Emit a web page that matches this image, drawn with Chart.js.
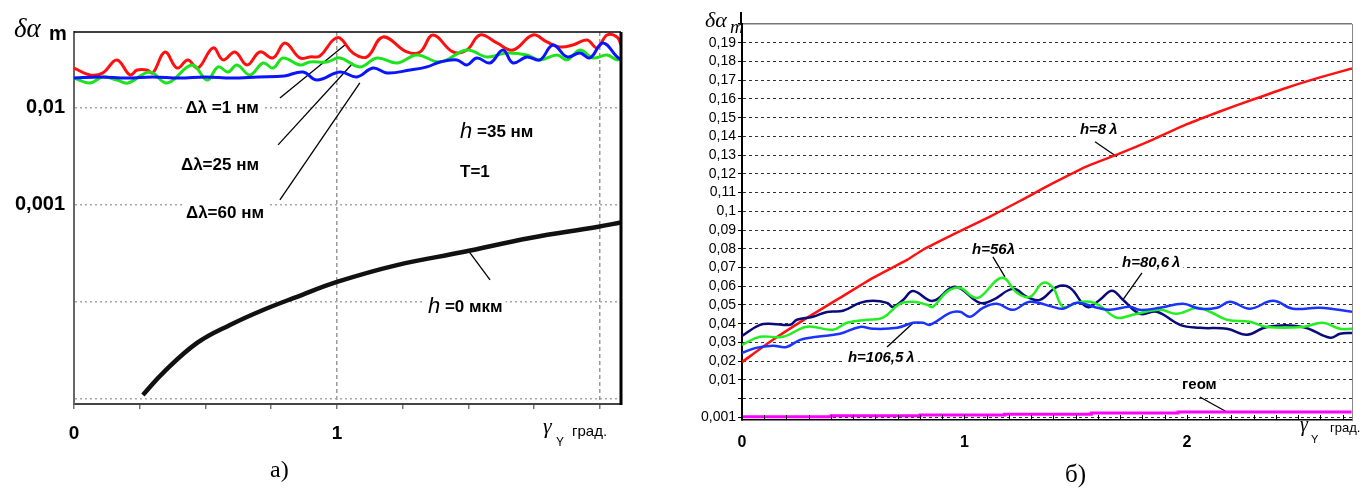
<!DOCTYPE html>
<html>
<head>
<meta charset="utf-8">
<script src="https://cdn.jsdelivr.net/npm/chart.js@4.4.0/dist/chart.umd.min.js"></script>
<style>
html, body { margin: 0; padding: 0; background: #fff; width: 1364px; height: 488px; overflow: hidden; }
canvas { position: absolute; top: 0; }
#chartA { left: 0; }
#chartB { left: 680px; }
</style>
</head>
<body>
<canvas id="chartA" width="650" height="488"></canvas>
<canvas id="chartB" width="684" height="488"></canvas>
<script>
// ---------- panel а) : log scale, h = 35 nm ----------
const aRedX = [0,0.061,0.110,0.163,0.213,0.240,0.278,0.300,0.346,0.392,0.433,0.471,0.529,0.567,0.612,0.658,0.707,0.757,0.802,0.859,0.897,0.935,0.985,1.011,1.061,1.114,1.175,1.266,1.316,1.365,1.441,1.494,1.544,1.608,1.669,1.745,1.798,1.848,1.897,1.951,1.989,2.027,2.065,2.080];
const aRedY = [0.0258,0.0219,0.0230,0.0313,0.0219,0.0246,0.0246,0.0230,0.0378,0.0258,0.0313,0.0258,0.0416,0.0313,0.0378,0.0278,0.0378,0.0328,0.0468,0.0328,0.0336,0.0344,0.0502,0.0527,0.0369,0.0336,0.0540,0.0378,0.0378,0.0566,0.0378,0.0396,0.0566,0.0468,0.0396,0.0566,0.0479,0.0425,0.0446,0.0502,0.0416,0.0566,0.0540,0.0446];
const aGreenX = [0,0.061,0.110,0.163,0.205,0.289,0.354,0.449,0.506,0.548,0.586,0.620,0.669,0.719,0.757,0.795,0.859,0.897,0.962,1.011,1.087,1.152,1.228,1.304,1.392,1.494,1.570,1.646,1.722,1.772,1.837,1.875,1.924,1.973,2.027,2.065,2.080];
const aGreenY = [0.0204,0.0181,0.0209,0.0194,0.0181,0.0235,0.0181,0.0278,0.0194,0.0265,0.0235,0.0278,0.0219,0.0291,0.0258,0.0328,0.0278,0.0298,0.0298,0.0328,0.0265,0.0328,0.0291,0.0352,0.0298,0.0396,0.0336,0.0369,0.0352,0.0313,0.0352,0.0313,0.0396,0.0328,0.0352,0.0313,0.0328];
const aBlueX = [0,0.1,0.2,0.3,0.4,0.5,0.6,0.7,0.8,0.871,0.924,1.011,1.076,1.137,1.190,1.278,1.342,1.392,1.456,1.494,1.532,1.582,1.631,1.669,1.722,1.772,1.821,1.875,1.924,1.962,2.011,2.065,2.080];
const aBlueY = [0.0204,0.0209,0.0204,0.0209,0.0204,0.0209,0.0204,0.0209,0.0214,0.0235,0.0194,0.0235,0.0209,0.0258,0.0230,0.0246,0.0265,0.0298,0.0313,0.0278,0.0328,0.0291,0.0396,0.0291,0.0336,0.0313,0.0446,0.0336,0.0369,0.0328,0.0468,0.0336,0.0313];
const aBlackX = [0.262,0.338,0.468,0.593,0.719,0.848,1.0,1.228,1.479,1.734,1.989,2.08];
const aBlackY = [1.10e-5,1.85e-5,3.78e-5,5.79e-5,8.27e-5,1.13e-4,1.61e-4,2.40e-4,3.27e-4,4.57e-4,5.93e-4,6.6e-4];

const aYTicks = [1e-5, 1e-4, 1e-3, 1e-2];
const aYTickLabels = ['', '', '0,001', '0,01'];
const aXTicks = [0, 0.25, 0.5, 0.75, 1, 1.25, 1.5, 1.75, 2];
const aXTickLabels = ['0', '', '', '', '1', '', '', '', ''];

// ---------- panel б) : linear scale with compressed bottom ----------
const bRedX = [0,0.139,0.292,0.44,0.589,0.742,0.814,0.966,1.115,1.249,1.398,1.55,1.699,1.847,2.0,2.148,2.297,2.449,2.598,2.742];
const bRedY = [0.0195,0.0314,0.0431,0.0538,0.0645,0.0741,0.0795,0.0886,0.0972,0.1055,0.1150,0.124,0.1309,0.1383,0.1465,0.1533,0.1597,0.1660,0.1715,0.1763];
const bNavyX = [0,0.081,0.139,0.216,0.247,0.319,0.382,0.454,0.530,0.589,0.652,0.679,0.724,0.769,0.858,0.957,1.07,1.128,1.218,1.281,1.339,1.416,1.474,1.55,1.609,1.663,1.712,1.789,1.865,1.969,2.058,2.18,2.27,2.36,2.52,2.643,2.688,2.742];
const bNavyY = [0.0335,0.0394,0.0399,0.0394,0.0421,0.0437,0.0463,0.0469,0.0511,0.0522,0.0511,0.049,0.0527,0.0575,0.0522,0.0597,0.0511,0.0527,0.0586,0.0543,0.0527,0.0597,0.0592,0.049,0.0528,0.0576,0.0528,0.0453,0.0464,0.0394,0.0378,0.0373,0.0341,0.0383,0.0383,0.0325,0.0346,0.0351];
const bGreenX = [0,0.081,0.184,0.292,0.409,0.472,0.562,0.634,0.71,0.769,0.832,0.858,0.921,0.979,1.038,1.07,1.169,1.236,1.294,1.353,1.398,1.443,1.506,1.564,1.609,1.685,1.757,1.879,1.955,2.045,2.103,2.18,2.283,2.36,2.52,2.611,2.688,2.742];
const bGreenY = [0.0287,0.033,0.033,0.0384,0.0368,0.0405,0.0421,0.0432,0.0506,0.0517,0.0501,0.049,0.057,0.0592,0.0543,0.0543,0.0645,0.0565,0.0543,0.0618,0.0592,0.049,0.0512,0.0517,0.0496,0.0432,0.0448,0.0474,0.0453,0.0485,0.0464,0.0421,0.041,0.0383,0.0383,0.0405,0.0373,0.0373];
const bBlueX = [0,0.063,0.139,0.2,0.261,0.337,0.44,0.53,0.589,0.697,0.769,0.814,0.845,0.935,0.98,1.025,1.083,1.146,1.218,1.294,1.398,1.443,1.506,1.596,1.654,1.744,1.789,1.879,1.982,2.058,2.135,2.193,2.283,2.387,2.476,2.598,2.742];
const bBlueY = [0.0244,0.0271,0.0282,0.0276,0.0314,0.033,0.0346,0.0383,0.0373,0.0378,0.0405,0.0405,0.0394,0.0458,0.0464,0.0437,0.0485,0.0506,0.0474,0.0517,0.049,0.048,0.0512,0.0485,0.0474,0.049,0.0474,0.0485,0.0506,0.048,0.0485,0.0517,0.048,0.0522,0.048,0.0485,0.0464];
const bGeomX = [0,0.40,0.80,1.18,1.57,1.96,2.35,2.74];
const bGeomY = [0.001,0.00104,0.0011,0.00116,0.00122,0.0013,0.0014,0.0014];

const bYTicks = [0.2,0.19,0.18,0.17,0.16,0.15,0.14,0.13,0.12,0.11,0.1,0.09,0.08,0.07,0.06,0.05,0.04,0.03,0.02,0.01,0,-0.01];
const bYTickLabels = ['','0,19','0,18','0,17','0,16','0,15','0,14','0,13','0,12','0,11','0,1','0,09','0,08','0,07','0,06','0,05','0,04','0,03','0,02','0,01','','0,001'];
const bXLabelValues = [0, 1, 2];
const bXLabels = ['0', '1', '2'];

const SANS = "'Liberation Sans', Arial, sans-serif";
const SERIF = "'Liberation Serif', 'Times New Roman', serif";

function pts(xs, ys, f) {
    return xs.map((x, i) => ({ x: x, y: f ? f(ys[i]) : ys[i] }));
}
// below 0,01 the right axis is logarithmic: 0,01 -> 0,01 and 0,001 -> -0,01
function toAxisB(v) {
    return v >= 0.01 ? v : 0.01 + 0.02 * (Math.log10(v) + 2);
}
function line(data, color, width, extra) {
    return Object.assign({ data: data, borderColor: color, borderWidth: width, pointRadius: 0,
        tension: 0.4, fill: false }, extra || {});
}

function drawRuns(ctx, x, y, parts, align) {
    let w = 0;
    parts.forEach(p => { ctx.font = p[1]; w += ctx.measureText(p[0]).width; });
    let cx = align === 'center' ? x - w / 2 : x;
    ctx.fillStyle = '#fff';
    ctx.fillRect(cx - 3, y - 9, w + 6, 18);
    ctx.fillStyle = '#000';
    ctx.textBaseline = 'middle';
    parts.forEach(p => {
        ctx.font = p[1];
        ctx.fillText(p[0], cx, y);
        cx += ctx.measureText(p[0]).width;
    });
}

function decor(notes, leaders, extra) {
    return {
        id: 'decor',
        beforeDatasetsDraw(chart) {
            const ctx = chart.ctx, sx = chart.scales.x, sy = chart.scales.y;
            ctx.save();
            notes.forEach(n => drawRuns(ctx, sx.getPixelForValue(n.x), sy.getPixelForValue(n.y), n.parts, n.align));
            ctx.strokeStyle = '#000';
            ctx.lineWidth = 1.3;
            leaders.forEach(l => {
                ctx.beginPath();
                ctx.moveTo(sx.getPixelForValue(l[0]), sy.getPixelForValue(l[1]));
                ctx.lineTo(sx.getPixelForValue(l[2]), sy.getPixelForValue(l[3]));
                ctx.stroke();
            });
            ctx.restore();
        },
        afterDraw(chart) {
            chart.ctx.save();
            extra(chart);
            chart.ctx.restore();
        }
    };
}

// ---------- chart а) ----------
const aB = "bold 17px " + SANS;
const aH = "italic 22px " + SANS;
const aNotes = [
    { x: 0.563, y: 0.01, align: 'center', parts: [['\u0394\u03bb =1 нм', aB]] },
    { x: 0.555, y: 0.00258, align: 'center', parts: [['\u0394\u03bb=25 нм', aB]] },
    { x: 0.574, y: 0.000828, align: 'center', parts: [['\u0394\u03bb=60 нм', aB]] },
    { x: 1.468, y: 0.00566, align: 'left', parts: [['h', aH], [' =35 нм', aB]] },
    { x: 1.468, y: 0.00219, align: 'left', parts: [['T=1', aB]] },
    { x: 1.346, y: 8.87e-5, align: 'left', parts: [['h', aH], [' =0 мкм', aB]] }
];
const aLeaders = [
    [0.783, 0.01268, 1.030, 0.0446],
    [0.776, 0.00416, 1.061, 0.0291],
    [0.783, 0.001127, 1.087, 0.0181],
    [1.498, 3.43e-4, 1.582, 1.69e-4]
];

function extraA(chart) {
    const ctx = chart.ctx, a = chart.chartArea;
    ctx.strokeStyle = '#000';
    ctx.lineWidth = 1.5;
    ctx.beginPath(); ctx.moveTo(a.left, a.top); ctx.lineTo(a.right, a.top); ctx.stroke();
    ctx.lineWidth = 3;
    ctx.beginPath(); ctx.moveTo(a.right, a.top); ctx.lineTo(a.right, a.bottom + 1); ctx.stroke();

    ctx.fillStyle = '#000';
    ctx.textBaseline = 'alphabetic';
    ctx.font = "italic 27px " + SERIF;
    ctx.fillText('\u03b4\u03b1', a.left - 60, a.top + 5);
    ctx.font = "bold 20px " + SANS;
    ctx.fillText('m', a.left - 25, a.top + 8);

    ctx.font = "italic 22px " + SERIF;
    ctx.fillText('\u03b3', 543, 433);
    ctx.font = "12px " + SANS;
    ctx.fillText('Y', 556, 446);
    ctx.font = "15px " + SANS;
    ctx.fillText('град.', 572, 436);

    ctx.font = "24px " + SERIF;
    ctx.fillText('а)', 270, 477);
}

new Chart(document.getElementById('chartA').getContext('2d'), {
    type: 'line',
    data: {
        datasets: [
            line(pts(aBlackX, aBlackY), '#111', 4.5),
            line(pts(aBlueX, aBlueY), '#0a14ff', 3),
            line(pts(aGreenX, aGreenY), '#1de31d', 3),
            line(pts(aRedX, aRedY), '#ff1010', 3)
        ]
    },
    options: {
        responsive: false,
        animation: false,
        layout: { padding: { top: 32, right: 29, left: 0, bottom: 0 } },
        plugins: { legend: { display: false }, tooltip: { enabled: false } },
        scales: {
            x: {
                type: 'linear', min: 0, max: 2.08,
                afterBuildTicks: s => { s.ticks = aXTicks.map(v => ({ value: v })); },
                afterFit: s => { s.height = 84; },
                grid: {
                    color: c => (c.tick && (c.tick.value === 1 || c.tick.value === 2)) ? '#9a9a9a' : 'rgba(0,0,0,0)',
                    tickColor: '#777', tickLength: 5, lineWidth: 1.5
                },
                border: { color: '#444', width: 2, dash: [4, 3] },
                ticks: {
                    autoSkip: false, maxRotation: 0, padding: 13, color: '#000',
                    font: { family: SANS, size: 19, weight: 'bold' },
                    callback: (v, i) => aXTickLabels[i]
                }
            },
            y: {
                type: 'logarithmic', min: 8.87e-6, max: 0.0607,
                afterBuildTicks: s => { s.ticks = aYTicks.map(v => ({ value: v })); },
                afterFit: s => { s.width = 74; },
                grid: { color: '#a8a8a8', lineWidth: 1.5, drawTicks: false },
                border: { color: '#666', width: 2, dash: [2, 3] },
                ticks: {
                    autoSkip: false, padding: 9, color: '#000',
                    font: { family: SANS, size: 20, weight: 'bold' },
                    callback: (v, i) => aYTickLabels[i]
                }
            }
        }
    },
    plugins: [decor(aNotes, aLeaders, extraA)]
});

// ---------- chart б) ----------
const bB = "bold italic 15px " + SANS;
const bNotes = [
    { x: 1.519, y: 0.1436, align: 'left', parts: [['h=8\u202f\u03bb', bB]] },
    { x: 1.034, y: 0.0794, align: 'left', parts: [['h=56\u03bb', bB]] },
    { x: 1.708, y: 0.0725, align: 'left', parts: [['h=80,6\u202f\u03bb', bB]] },
    { x: 0.476, y: 0.0218, align: 'left', parts: [['h=106,5\u202f\u03bb', bB]] },
    { x: 1.978, y: 0.0073, align: 'left', parts: [['геом', "bold 15px " + SANS]] }
];
const bLeaders = [
    [1.587, 0.1371, 1.685, 0.1291],
    [1.128, 0.0757, 1.182, 0.0650],
    [1.798, 0.0672, 1.712, 0.0527],
    [0.652, 0.0276, 0.769, 0.0404],
    [2.058, 0.0009, 2.18, -0.0071]
];

function extraB(chart) {
    const ctx = chart.ctx, a = chart.chartArea, sx = chart.scales.x;
    ctx.strokeStyle = '#888';
    ctx.lineWidth = 1;
    ctx.beginPath(); ctx.moveTo(a.right + 0.5, a.top); ctx.lineTo(a.right + 0.5, a.bottom); ctx.stroke();
    ctx.strokeStyle = '#000';
    ctx.lineWidth = 2;
    ctx.beginPath(); ctx.moveTo(a.left - 1, a.top - 12); ctx.lineTo(a.left - 1, a.top); ctx.stroke();
    ctx.lineWidth = 1;
    sx.ticks.forEach(t => {
        const px = Math.round(sx.getPixelForValue(t.value)) + 0.5;
        ctx.beginPath(); ctx.moveTo(px, a.bottom); ctx.lineTo(px, a.bottom - 5); ctx.stroke();
    });

    ctx.fillStyle = '#000';
    ctx.textBaseline = 'alphabetic';
    ctx.font = "italic 22px " + SERIF;
    ctx.fillText('\u03b4\u03b1', a.left - 37, a.top + 3);
    ctx.font = "italic 19px " + SERIF;
    ctx.fillText('m', a.left - 12, a.top + 9);

    ctx.font = "italic 20px " + SERIF;
    ctx.fillText('\u03b3', 1300 - 680, 431);
    ctx.font = "11px " + SANS;
    ctx.fillText('Y', 1311 - 680, 443);
    ctx.font = "13px " + SANS;
    ctx.fillText('град.', 1330 - 680, 432);

    ctx.font = "25px " + SERIF;
    ctx.fillText('б)', 1065 - 680, 482);
}

new Chart(document.getElementById('chartB').getContext('2d'), {
    type: 'line',
    data: {
        datasets: [
            line(pts(bGeomX, bGeomY, toAxisB), '#ff00ff', 3, { stepped: 'after', tension: 0 }),
            line(pts(bBlueX, bBlueY), '#1a33ff', 2.5),
            line(pts(bGreenX, bGreenY), '#22ee22', 2.5),
            line(pts(bNavyX, bNavyY), '#0a0a7a', 2.5),
            line(pts(bRedX, bRedY), '#ff1111', 2.5, { tension: 0.2 })
        ]
    },
    options: {
        responsive: false,
        animation: false,
        layout: { padding: { top: 24, right: 12, left: 0, bottom: 0 } },
        plugins: { legend: { display: false }, tooltip: { enabled: false } },
        scales: {
            x: {
                type: 'linear', min: 0, max: 2.742,
                afterBuildTicks: s => {
                    const t = [];
                    for (let i = 0; i <= 27; i++) t.push({ value: i / 10 });
                    s.ticks = t;
                },
                afterFit: s => { s.height = 68; },
                grid: { display: false },
                border: { color: '#000', width: 1.5 },
                ticks: {
                    autoSkip: false, maxRotation: 0, padding: 5, color: '#000',
                    font: { family: SANS, size: 16, weight: 'bold' },
                    callback: v => {
                        const k = bXLabelValues.indexOf(v);
                        return k >= 0 ? bXLabels[k] : '';
                    }
                }
            },
            y: {
                type: 'linear', min: -0.0114, max: 0.2,
                afterBuildTicks: s => { s.ticks = bYTicks.map(v => ({ value: v })); },
                afterFit: s => { s.width = 62; },
                grid: {
                    color: c => (c.tick && c.tick.value === 0.2) ? '#777' : '#333',
                    lineWidth: c => (c.tick && c.tick.value === 0.2) ? 1.5 : 1,
                    tickColor: '#000', tickLength: 4
                },
                border: {
                    color: '#000', width: 2,
                    dash: c => (c.tick && c.tick.value === 0.2) ? [] : [3, 3]
                },
                ticks: {
                    autoSkip: false, padding: 2, color: '#000',
                    font: { family: SANS, size: 14 },
                    callback: (v, i) => bYTickLabels[i]
                }
            }
        }
    },
    plugins: [decor(bNotes, bLeaders, extraB)]
});
</script>
</body>
</html>
